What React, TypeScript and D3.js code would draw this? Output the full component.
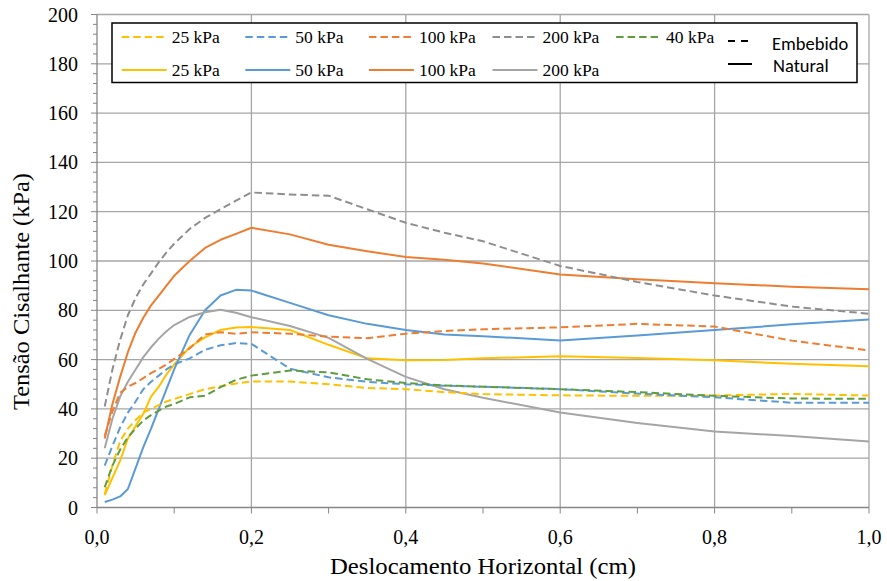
import React from "react";
import * as d3 from "d3";

const X = [0.01, 0.02, 0.03, 0.04, 0.05, 0.06, 0.07, 0.08, 0.09, 0.10, 0.12, 0.14, 0.16, 0.18, 0.20, 0.25, 0.30, 0.35, 0.40, 0.45, 0.50, 0.60, 0.70, 0.80, 0.90, 1.00];

// Embebido (dashed)
const e25 = [5.5, 17, 27, 32, 35.5, 38.5, 40, 41.5, 43, 44, 46, 48, 49.2, 50.3, 51.1, 51.1, 50, 48.5, 48, 46.8, 46, 45.5, 45.3, 45.4, 46.1, 45.4];
const e50 = [17, 25, 32.5, 38.5, 43, 48, 51, 53.5, 56, 58, 60.5, 64, 65.8, 66.7, 66.4, 56.3, 52.8, 51, 50, 49.4, 49, 48, 46.2, 44.7, 42.5, 42.5];
const e100 = [29, 39, 46.5, 49, 50.5, 52.5, 54.5, 56.2, 58, 60.3, 64.5, 70.2, 71.1, 70.5, 71.1, 70.5, 69.3, 68.7, 70.5, 71.6, 72.3, 73.1, 74.5, 73.4, 67.7, 63.7];
const e200 = [41, 56, 68, 78, 85, 90.5, 95, 99.5, 103.5, 107, 113, 117.5, 121, 124.5, 127.8, 127, 126.5, 121, 115.5, 111.5, 108, 98, 91.5, 86, 81.5, 78.6];
const e40 = [8.2, 17, 23.5, 28.5, 32, 35.3, 37.5, 39.3, 41, 42, 44.7, 45.3, 48.8, 51.8, 53.5, 55.6, 54.8, 52, 50.5, 49.5, 49, 48, 46.8, 45.3, 44.2, 44.1];

// Natural (solid)
const n25 = [5, 12, 19, 28, 33, 38, 45, 49, 54, 58, 65, 69, 72, 73, 73.2, 72, 66, 60.5, 59.7, 59.8, 60.5, 61.4, 60.6, 59.7, 58.3, 57.3];
const n50 = [2.2, 3.2, 4.5, 7.5, 16, 24.5, 32, 40, 48, 56, 70, 80, 86, 88.3, 88, 83, 78, 74.5, 72, 70.2, 69.5, 67.7, 69.8, 72, 74.3, 76.3];
const n100 = [28, 42, 53, 63, 71, 77, 82, 86, 90, 94, 100, 105.3, 108.6, 111, 113.5, 110.8, 106.6, 104, 101.6, 100.5, 99, 94.5, 92.6, 91, 89.6, 88.5];
const n200 = [24, 36, 45, 51, 56, 61, 65, 68.5, 71.5, 74, 77.3, 79.2, 80.2, 79, 77.2, 73.6, 68.8, 60.3, 53, 48, 44.5, 38.5, 34.3, 30.8, 29, 26.8];

const xTicks = [0, 0.2, 0.4, 0.6, 0.8, 1.0];
const yTicks = [0, 20, 40, 60, 80, 100, 120, 140, 160, 180, 200];

const dashedLabels = ["25 kPa", "50 kPa", "100 kPa", "200 kPa", "40 kPa"];
const solidLabels = ["25 kPa", "50 kPa", "100 kPa", "200 kPa"];

const C = {
  yellow: "#FFC000",
  blue: "#5B9BD5",
  orange: "#ED7D31",
  gray: "#A5A5A5",
  grayD: "#8E8E8E",
  green: "#5E9C3E",
};

const dashedSeries = [
  { data: e25, color: C.yellow },
  { data: e50, color: C.blue },
  { data: e100, color: C.orange },
  { data: e200, color: C.grayD },
  { data: e40, color: C.green },
];
const solidSeries = [
  { data: n25, color: C.yellow },
  { data: n50, color: C.blue },
  { data: n100, color: C.orange },
  { data: n200, color: C.gray },
];

const W = 887, H = 581;
const L = 97, R = 869, T = 14.5, B = 507.5;
const DASH = "7.5,4";
const serif = "Liberation Serif";
const sans = "Carlito";

export default function App() {
  const x = d3.scaleLinear().domain([0, 1]).range([L, R]);
  const y = d3.scaleLinear().domain([0, 200]).range([B, T]);
  const line = d3
    .line<number>()
    .x((_, i) => x(X[i]))
    .y((d) => y(d));

  const minorY = d3.range(0, 201, 4);
  const minorX = d3.range(0, 1.0001, 0.1);
  const fmt = (v: number) => v.toFixed(1).replace(".", ",");

  const legX0 = 121.7, legDX = 123.6;

  return (
    <svg width={W} height={H} style={{ position: "absolute", left: 0, top: 0, background: "#fff" }}>
      <rect x={0} y={0} width={W} height={H} fill="#fff" />
      {/* grid */}
      {yTicks.filter((t) => t > 0).map((t) => (
        <line key={"gy" + t} x1={L} x2={R} y1={y(t)} y2={y(t)} stroke="#A6A6A6" strokeWidth={1.3} />
      ))}
      {xTicks.filter((t) => t > 0).map((t) => (
        <line key={"gx" + t} x1={x(t)} x2={x(t)} y1={T} y2={B} stroke="#A6A6A6" strokeWidth={1.3} />
      ))}
      {/* axes */}
      <line x1={L} x2={L} y1={T} y2={B} stroke="#868686" strokeWidth={1.3} />
      <line x1={L} x2={R} y1={B} y2={B} stroke="#868686" strokeWidth={1.3} />
      {minorY.map((t) => (
        <line key={"my" + t} x1={t % 20 === 0 ? L - 6 : L - 4} x2={L} y1={y(t)} y2={y(t)} stroke="#868686" strokeWidth={1} />
      ))}
      {minorX.map((t, i) => (
        <line key={"mx" + i} x1={x(t)} x2={x(t)} y1={B} y2={B + 6} stroke="#868686" strokeWidth={1} />
      ))}
      {/* tick labels */}
      {yTicks.map((t) => (
        <text key={"ly" + t} x={78} y={y(t) + 7} textAnchor="end" fontFamily={serif} fontSize={20} fill="#000">
          {t}
        </text>
      ))}
      {xTicks.map((t) => (
        <text key={"lx" + t} x={x(t)} y={544} textAnchor="middle" fontFamily={serif} fontSize={20} fill="#000">
          {fmt(t)}
        </text>
      ))}
      {/* titles */}
      <text x={330} y={574} fontFamily={serif} fontSize={24} fill="#000" textLength={306} lengthAdjust="spacingAndGlyphs">
        Deslocamento Horizontal (cm)
      </text>
      <text transform="translate(28.5,410) rotate(-90)" fontFamily={serif} fontSize={24} fill="#000" textLength={237} lengthAdjust="spacingAndGlyphs">
        Tensão Cisalhante (kPa)
      </text>
      {/* series */}
      <g fill="none" strokeWidth={2} strokeLinejoin="round">
        {solidSeries.map((s, i) => (
          <path key={"s" + i} d={line(s.data) || ""} stroke={s.color} />
        ))}
        {dashedSeries.map((s, i) => (
          <path key={"d" + i} d={line(s.data) || ""} stroke={s.color} strokeDasharray={DASH} />
        ))}
      </g>
      {/* legend */}
      <rect x={112} y={23} width={745} height={59.5} fill="#fff" stroke="#000" strokeWidth={1.5} />
      {dashedLabels.map((lab, i) => (
        <g key={"ld" + i}>
          <line x1={legX0 + i * legDX} x2={legX0 + i * legDX + 42} y1={37} y2={37} stroke={dashedSeries[i].color} strokeWidth={2} strokeDasharray={DASH} />
          <text x={legX0 + i * legDX + 50} y={43.3} fontFamily={serif} fontSize={17.5} fill="#000">
            {lab}
          </text>
        </g>
      ))}
      {solidLabels.map((lab, i) => (
        <g key={"ls" + i}>
          <line x1={legX0 + i * legDX} x2={legX0 + i * legDX + 45} y1={70} y2={70} stroke={solidSeries[i].color} strokeWidth={2} />
          <text x={legX0 + i * legDX + 50} y={75.5} fontFamily={serif} fontSize={17.5} fill="#000">
            {lab}
          </text>
        </g>
      ))}
      <line x1={728} x2={748} y1={41} y2={41} stroke="#000" strokeWidth={2} strokeDasharray="7,6" />
      <text x={772} y={49.5} fontFamily={sans} fontSize={18.5} fill="#000">Embebido</text>
      <line x1={728} x2={752} y1={64} y2={64} stroke="#000" strokeWidth={2} />
      <text x={773} y={71.5} fontFamily={sans} fontSize={18.5} fill="#000">Natural</text>
    </svg>
  );
}
